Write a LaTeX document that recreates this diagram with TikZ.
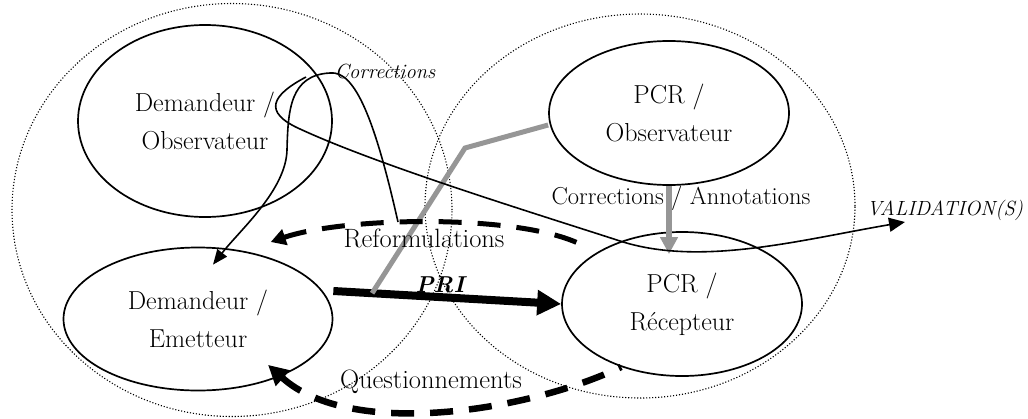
\documentclass[tikz,border=0pt]{standalone}
\usepackage{fontspec}
\usepackage{xcolor}
\usetikzlibrary{arrows.meta}
\usetikzlibrary{shapes.geometric, calc}
\definecolor{mygray}{RGB}{150,150,150}

\begin{document}
\begin{tikzpicture}[x=1pt, y=-1pt,
 zone/.style={ellipse, draw, line width=1.1pt, dash pattern=on 1.1pt off 1.9pt, inner sep=0pt},
 rolebox/.style={ellipse, draw, line width=1.7pt, inner sep=0pt, align=center, font=\fontsize{26}{38}\selectfont},
 lbl/.style={inner sep=0pt, font=\fontsize{26.5}{30}\selectfont},
 ilbl/.style={inner sep=0pt, font=\fontsize{20.5}{24}\selectfont\itshape},
 flow/.style={line width=1.6pt, -{Triangle[length=15pt,width=12pt]}},
 dashflow/.style={dash pattern=on 23pt off 16pt}]
\useasboundingbox (0,0) rectangle (1028,418);

 %zones:
 \node[zone, minimum width=440pt, minimum height=413pt] (zoneD) at (232,210) {};
 \node[zone, minimum width=430pt, minimum height=384pt] (zoneP) at (640,206) {};

 %actors
 \node[rolebox, minimum width=254pt, minimum height=192pt] (demobs) at (205,121) {Demandeur /\\Observateur};
 \node[rolebox, minimum width=269pt, minimum height=143pt] (demem) at (198,319) {Demandeur /\\Emetteur};
 \node[rolebox, minimum width=240pt, minimum height=144pt] (pcrobs) at (669,113) {PCR /\\Observateur};
 \node[rolebox, minimum width=240pt, minimum height=144pt] (pcrrec) at (682,304) {PCR /\\R\'ecepteur};

 %PRI
 \coordinate (priS) at ([yshift=28pt]demem.east);
 \draw[line width=8pt, -{Triangle[length=24pt,width=24pt]}] (priS) -- (pcrrec.west);
 \node[lbl, font=\fontsize{23}{26}\selectfont\bfseries\itshape] (pri) at (440,285) {PRI};

 %grey link
 \coordinate (kink) at (465,148);
 \draw[mygray, line width=5pt] ([yshift=-12pt]pcrobs.west) -- (kink) -- ($(priS)!0.17!(pcrrec.west)$);

 %corrections / annotations
 \draw[mygray, line width=5.5pt, -{Triangle[length=17pt,width=17pt]}, shorten >=-23pt] (pcrobs.south) -- (pcrobs.south |- pcrrec.north);
 \node[lbl, font=\fontsize{24.5}{26}\selectfont] (corrann) at (681,198) {Corrections / Annotations};

 %reformulations (drawn from the tip so a dash meets the head)
 \draw[line width=5pt, dashflow, {Triangle[length=15pt,width=16pt]}-] ([yshift=16pt]demem.40) .. controls +(76,-26) and +(-57,-34) .. ([yshift=12pt]pcrrec.155);
 \node[lbl] (reform) at (424,238) {Reformulations};

 %questionnements
 \draw[line width=6.5pt, dashflow, {Triangle[length=20pt,width=20pt]}-] ([shift={(-16pt,10pt)}]demem.327) .. controls +(83,75) and +(-92,44) .. (pcrrec.226);
 \node[lbl] (quest) at (431,382) {Questionnements};

 %corrections
 \coordinate (corrS) at (398,222);
 \draw[flow] (corrS) .. controls (375,120) and (355,70) .. (330,73) .. controls (290,75) and (288,110) .. (287,150) .. controls (286,190) and (240,230) .. ([shift={(15pt,-18pt)}]demem.north);
 \node[ilbl] (corrlbl) at (385,71) {Corrections};

 %validation
 \coordinate (loopS) at (306,77);
 \coordinate (validE) at (905,222);
 \draw[flow, -{Triangle[length=16pt,width=14pt]}] (loopS) .. controls (272,95) and (262,112) .. (300,129) .. controls (380,166) and (540,215) .. (620,241) .. controls (700,267) and (800,240) .. (validE);
 \node[ilbl] (valid) at (945,210) {VALIDATION(S)};
\end{tikzpicture}
\end{document}
